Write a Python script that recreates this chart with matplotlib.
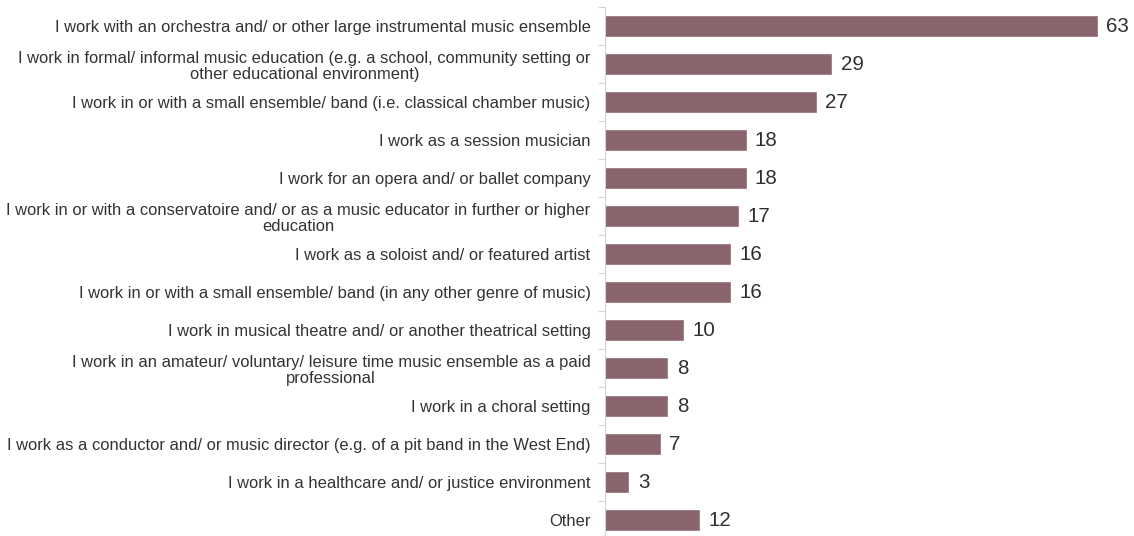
import matplotlib
matplotlib.use("Agg")
import matplotlib.pyplot as plt
import numpy as np

plt.rcParams["font.family"] = ["Liberation Sans", "DejaVu Sans"]

categories = [
    "I work with an orchestra and/ or other large instrumental music ensemble",
    "I work in formal/ informal music education (e.g. a school, community setting or\nother educational environment)",
    "I work in or with a small ensemble/ band (i.e. classical chamber music)",
    "I work as a session musician",
    "I work for an opera and/ or ballet company",
    "I work in or with a conservatoire and/ or as a music educator in further or higher\neducation",
    "I work as a soloist and/ or featured artist",
    "I work in or with a small ensemble/ band (in any other genre of music)",
    "I work in musical theatre and/ or another theatrical setting",
    "I work in an amateur/ voluntary/ leisure time music ensemble as a paid\nprofessional",
    "I work in a choral setting",
    "I work as a conductor and/ or music director (e.g. of a pit band in the West End)",
    "I work in a healthcare and/ or justice environment",
    "Other",
]
values = [63, 29, 27, 18, 18, 17, 16, 16, 10, 8, 8, 7, 3, 12]

bar_color = "#8a646d"
axis_color = "#d4d4d4"

fig = plt.figure(figsize=[11.34, 5.36], dpi=100)
ax = fig.add_axes([605 / 1134, -3 / 536, 65 * 7.81 / 1134, 532 / 536])

y = np.arange(len(categories))
ax.barh(y, values, height=0.53, color=bar_color, edgecolor="#9c7a82", linewidth=0.6)
for yi, v in zip(y, values):
    ax.text(v + 1.2, yi, str(v), va="center", ha="left", fontsize=14.8, color="#303030")

ax.set_ylim(len(categories) - 0.5, -0.5)
ax.set_xlim(0, 65)
ax.set_yticks(y)
ax.set_yticklabels(categories, fontsize=11.9, color="#333333",
                   multialignment="center", linespacing=1.12)
ax.tick_params(axis="y", which="major", length=0, pad=10.5)
ax.set_yticks(np.arange(-0.5, len(categories), 1), minor=True)
ax.tick_params(axis="y", which="minor", length=5, color=axis_color, width=0.8)
ax.set_xticks([])

for side in ["top", "right", "bottom"]:
    ax.spines[side].set_visible(False)
ax.spines["left"].set_color(axis_color)
ax.spines["left"].set_linewidth(0.8)

fig.savefig("out.png", dpi=100)
